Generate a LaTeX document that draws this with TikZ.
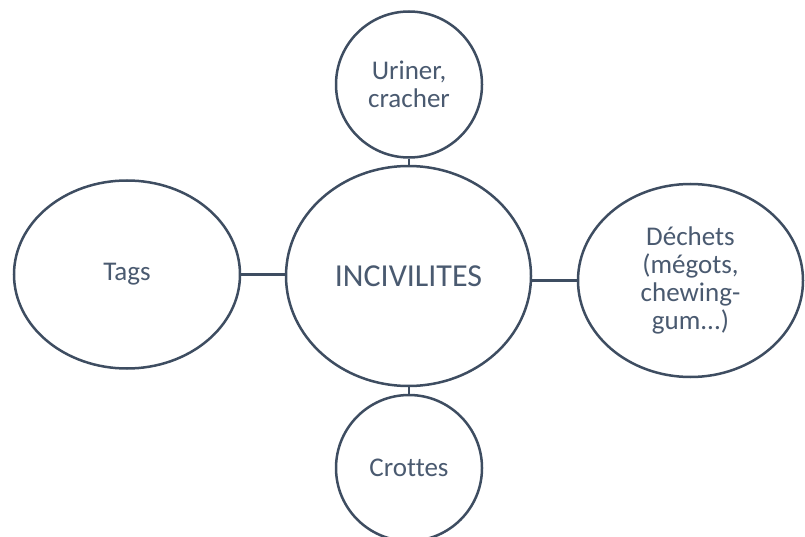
\documentclass[tikz,border=0pt]{standalone}
\usepackage{fontspec}
\setmainfont[Ligatures=CommonOff]{Carlito}
\usepackage{tikz}
\usetikzlibrary{shapes.geometric}
\definecolor{rimcol}{HTML}{3E4D61}
\definecolor{txtcol}{HTML}{4A5A70}

\begin{document}
\begin{tikzpicture}[x=1pt,y=-1pt,
	bubble/.style={ellipse,draw=rimcol,line width=2.5pt,fill=white,inner sep=0pt,align=center,text=txtcol,font=\fontsize{27}{28}\selectfont},
	link/.style={draw=rimcol,line width=2.5pt}]
			\useasboundingbox (0,0) rectangle (805,537);
			\node[bubble,minimum width=245pt,minimum height=220pt,font=\fontsize{32}{34}\selectfont] (incivil) at (408.5,276) {INCIVILITES};
			\node[bubble,minimum width=146pt,minimum height=146pt] (urine) at (409,84.5) {Uriner,\\cracher};
			\node[bubble,minimum width=226pt,minimum height=188pt] (tags) at (127,274.5) {Tags};
			\node[bubble,minimum width=225pt,minimum height=193pt] (dechets) at (690.5,280.5) {D\'echets\\(m\'egots,\\chewing-\\gum...)};
			\node[bubble,minimum width=146pt,minimum height=146pt] (crottes) at (409,468) {Crottes};
			\draw[link] (urine.south) -- (urine.south |- incivil.north);
			\draw[link] (tags.east) -- (tags.east -| incivil.west);
			\draw[link] (dechets.west -| incivil.east) -- (dechets.west);
			\draw[link] (crottes.north |- incivil.south) -- (crottes.north);
\end{tikzpicture}
\end{document}
